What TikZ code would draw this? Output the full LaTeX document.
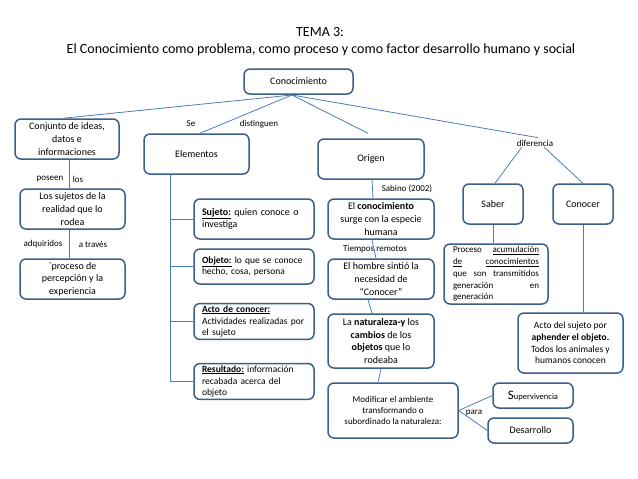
\documentclass[tikz,border=0pt]{standalone}
\usepackage{fontspec}
\setmainfont{Carlito}
\definecolor{marco}{HTML}{3A5F8B}
\definecolor{linea}{HTML}{4A7EBB}
\begin{document}
\begin{tikzpicture}[x=1pt,y=-1pt,
    caja/.style={draw=marco,line width=1.5pt,rounded corners=6pt,align=center,inner sep=2pt,
      font=\fontsize{10}{12.6}\selectfont},
    tam/.style 2 args={minimum width=#1pt,minimum height=#2pt},
    cajita/.style={caja,align=left,text width=104pt,font=\fontsize{9.5}{11.8}\selectfont},
    etiq/.style={inner sep=0pt,font=\fontsize{9}{10}\selectfont},
    enlace/.style={draw=linea,line width=0.8pt}]
  \useasboundingbox (0,0) rectangle (638,479);
  % titulo
  \node[font=\fontsize{14}{16}\selectfont] (tema) at (320,32) {TEMA 3:};
  \node[font=\fontsize{14}{16}\selectfont] (subt) at (321,50)
    {El Conocimiento como problema, como proceso y como factor desarrollo humano y social};
  % cajas
  \node[caja,tam={109}{25}] (con) at (298.5,81.5) {Conocimiento};
  \node[caja,tam={104}{40}] (ideas) at (67,139) {Conjunto de ideas,\\datos e\\informaciones};
  \node[caja,tam={105}{40}] (sujetos) at (72.5,209) {Los sujetos de la\\realidad que lo\\rodea};
  \node[caja,tam={105}{40}] (percep) at (72.5,279) {\textasciigrave proceso de\\percepción y la\\experiencia};
  \node[caja,tam={105}{40}] (elem) at (196.5,154) {Elementos};
  \node[cajita,tam={120}{40},font=\fontsize{10}{12.2}\selectfont] (sujeto) at (254,219)
    {\textbf{\underline{Sujeto:}} quien conoce o\\investiga};
  \node[cajita,tam={120}{35}] (objeto) at (254,266.5) {\textbf{\underline{Objeto:}} lo que se conoce\\hecho, cosa, persona};
  \node[cajita,tam={120}{35}] (acto) at (254,321.5) {\textbf{\underline{Acto de conocer:}}\\Actividades realizadas por\\el sujeto};
  \node[cajita,tam={120}{35}] (result) at (254,381.5) {\textbf{\underline{Resultado:}} información\\recabada acerca del\\objeto};
  \node[caja,tam={106}{40}] (orig) at (371,159) {Origen};
  \node[caja,tam={106}{40}] (surge) at (381,219) {El \textbf{conocimiento}\\surge con la especie\\humana};
  \node[caja,tam={106}{40}] (hombre) at (381,279) {El hombre sintió la\\necesidad de\\“Conocer”};
  \node[caja,tam={106}{54}] (natur) at (381,341) {La \textbf{naturaleza-y} los\\\textbf{cambios} de los\\\textbf{objetos} que lo\\rodeaba};
  \node[caja,tam={130}{55},font=\fontsize{9}{11.2}\selectfont] (modif) at (393,410.5)
    {Modificar el ambiente\\transformando o\\subordinado la naturaleza:};
  \node[caja,tam={80}{25},font=\fontsize{8.5}{10}\selectfont] (superv) at (533,395.5)
    {{\fontsize{13}{13}\selectfont S}upervivencia};
  \node[caja,tam={85}{25}] (desarr) at (530.5,430.5) {Desarrollo};
  \node[caja,tam={60}{40}] (saber) at (493,204) {Saber};
  \node[caja,tam={60}{40}] (conocer) at (583,204) {Conocer};
  \node[caja,align=left,text width=86pt,tam={104}{60},font=\fontsize{9}{11.7}\selectfont] (acum) at (496,274)
    {Proceso\hfill\underline{acumulación}\\
     \underline{de}\hfill\underline{conocimientos}\\
     que\hfill son\hfill transmitidos\\
     generación\hfill en\\
     generación};
  \node[caja,tam={105}{60},font=\fontsize{9.5}{11.7}\selectfont] (aprh) at (570.5,343)
    {Acto del sujeto por\\\textbf{aphender el objeto.}\\Todos los animales y\\humanos conocen};
  % etiquetas
  \node[etiq] (poseen) at (50,179) {poseen};
  \node[etiq] (los) at (78,179) {los};
  \node[etiq] (adq) at (43,244) {adquiridos};
  \node[etiq] (atraves) at (93,244) {a través};
  \node[etiq] (se) at (191,124) {Se};
  \node[etiq] (disting) at (259,124) {distinguen};
  \node[etiq] (sabino) at (407,189) {Sabino (2002)};
  \node[etiq] (tiempos) at (375,249) {Tiempos remotos};
  \node[etiq] (dif) at (535,143) {diferencia};
  \node[etiq] (para) at (474,413) {para};
  % enlaces
  \coordinate (hub) at (292,95);
  \draw[enlace] (hub) -- ([xshift=-4pt]ideas.north);
  \draw[enlace] (hub) -- ([xshift=3.5pt]elem.north);
  \draw[enlace] (hub) -- ([xshift=-3pt,yshift=5pt]orig.north);
  \draw[enlace] (hub) -- ([xshift=3pt,yshift=2pt]dif.north);
  \draw[enlace] ([xshift=2pt]ideas.south) -- ([xshift=2pt]ideas.south |- sujetos.north);
  \draw[enlace] ([xshift=-3.5pt]sujetos.south) -- ([xshift=-3.5pt]sujetos.south |- percep.north);
  \coordinate (espina) at (170,174);
  \draw[enlace] (espina) |- (result.west);
  \draw[enlace] (espina |- sujeto.west) -- (sujeto.west);
  \draw[enlace] (espina |- objeto.west) -- (objeto.west);
  \draw[enlace] (espina |- acto.west) -- (acto.west);
  \draw[enlace] ([xshift=1pt]orig.south) -- ([xshift=-8pt]surge.north);
  \draw[enlace] ([xshift=-9pt]surge.south) -- ([xshift=-5pt]hombre.north);
  \draw[enlace] ([xshift=-13pt]hombre.south) -- ([xshift=-9pt]natur.north);
  \draw[enlace] (natur.south) -- ([xshift=-15pt]modif.north);
  \draw[enlace] (modif.east) -- (superv.west);
  \draw[enlace] (modif.east) -- (desarr.west);
  \draw[enlace] ([xshift=5pt,yshift=-1pt]dif.south west) -- ([xshift=2pt]saber.north);
  \draw[enlace] ([xshift=-9pt,yshift=-1pt]dif.south east) -- (conocer.north);
  \draw[enlace] (saber.south) -- (saber.south |- acum.north);
  \draw[enlace] (conocer.south) -- (conocer.south |- aprh.north);
\end{tikzpicture}
\end{document}
